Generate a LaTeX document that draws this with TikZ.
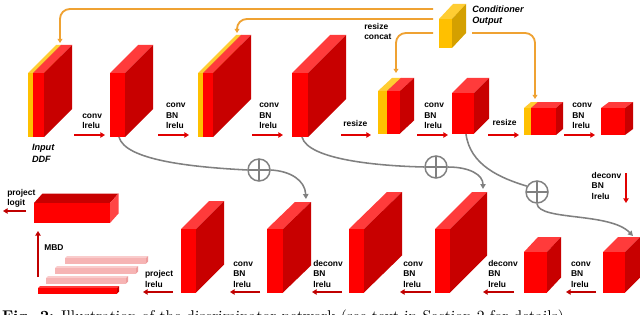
\documentclass[tikz,border=0pt]{standalone}
\usepackage{fontspec}
\usepackage{graphicx}
\newfontfamily\labfont{Liberation Sans}
\usetikzlibrary{arrows.meta}
\definecolor{redf}{HTML}{FF0000}
\definecolor{reds}{HTML}{C80000}
\definecolor{redt}{HTML}{FF3B3B}
\definecolor{yelf}{HTML}{FFC000}
\definecolor{yels}{HTML}{D4A000}
\definecolor{yelt}{HTML}{FFCD33}
\definecolor{pinkf}{HTML}{F6B4B4}
\definecolor{pinks}{HTML}{EE9E9E}
\definecolor{pinkt}{HTML}{F9CCCC}
\definecolor{logf}{HTML}{FF0000}
\definecolor{logs}{HTML}{FF4545}
\definecolor{logt}{HTML}{C80000}
\definecolor{condorange}{HTML}{EFA232}
\definecolor{skipgray}{HTML}{808080}
\definecolor{arrtop}{HTML}{E00000}
\definecolor{arrbot}{HTML}{C00000}
% #1 colour scheme, #2 name, #3 x0, #4 y0, #5 x1, #6 y1, #7 dx, #8 dy
\newcommand\cuboid[8][red]{%
  \coordinate (#2) at (#3,#4);
  \fill[#1t] (#3,#4) -- (#5,#4) -- ({#5+#7},{#4+#8}) -- ({#3+#7},{#4+#8}) -- cycle;
  \fill[#1s] (#5,#4) -- ({#5+#7},{#4+#8}) -- ({#5+#7},{#6+#8}) -- (#5,#6) -- cycle;
  \fill[#1f] (#3,#4) rectangle (#5,#6);
}
\newcommand\redarr[6][arrtop]{%
  \coordinate (#2-s) at (#3,#4);
  \coordinate (#2-e) at (#5,#6);
  \draw[redarrow, draw=#1] (#2-s) -- (#2-e);
}
\newcommand\fl{\rule{0pt}{8.6pt}}
\newcommand\flit{\rule{0pt}{9.3pt}}
\tikzset{
  redarrow/.style={line width=2.6pt, -{Triangle[length=6.5pt,width=7.5pt]}},
  skipline/.style={draw=skipgray, line width=2.2pt},
  skiparrow/.style={skipline, -{Triangle[length=7pt,width=7.5pt]}},
  condarrow/.style={draw=condorange, line width=2.6pt, rounded corners=14pt, -{Triangle[length=6pt,width=7pt]}},
  lbl/.style={font=\labfont\bfseries\fontsize{12}{14.8}\selectfont, align=left, anchor=north west, inner sep=0pt, outer sep=0pt},
  lblit/.style={lbl, font=\labfont\bfseries\itshape\fontsize{13}{16}\selectfont},
  circplus/.style={circle, draw=skipgray, line width=2.1pt, minimum size=1.1cm, inner sep=0pt, fill=white,
    path picture={\draw[skipgray, line width=2.1pt]
      (path picture bounding box.north) -- (path picture bounding box.south)
      (path picture bounding box.west) -- (path picture bounding box.east);}},
}
\begin{document}
\begin{tikzpicture}[x=0.05cm, y=-0.05cm]
\useasboundingbox (0,0) rectangle (640,315);
\clip (0,0) rectangle (640,315);
\fill[white] (0,0) rectangle (640,315);

% ---------- top row ----------
\cuboid[yel]{t1y}{28}{73}{33}{137}{28}{-28}
\cuboid{t1}{33}{73}{44}{137}{28}{-28}
\cuboid{t2}{110}{73}{125}{137}{28}{-28}
\cuboid[yel]{t3y}{198}{73}{203}{137}{38}{-38}
\cuboid{t3}{203}{73}{213}{137}{38}{-38}
\cuboid{t4}{292}{73}{308}{137}{38}{-38}
\cuboid[yel]{t5y}{378}{91}{387}{133.5}{14}{-13}
\cuboid{t5}{387}{91}{400}{133.5}{14}{-13}
\cuboid{t6}{452}{93}{474}{133.5}{15}{-15}
\cuboid[yel]{t7y}{524}{108}{531}{135}{7}{-6}
\cuboid{t7}{531}{108}{556}{135}{7}{-6}
\cuboid{t8}{601}{108}{625}{135}{8}{-6}
% conditioner
\cuboid[yel]{cond}{439}{19}{452}{48}{14}{-15}

% ---------- bottom row ----------
\cuboid{ba}{603}{252}{625}{292.5}{15}{-15}
\cuboid{bb}{524}{252}{547}{292.5}{14}{-15}
\cuboid{bc}{435}{229}{450}{292.5}{37}{-37}
\cuboid{bd}{349}{229}{364}{292.5}{38}{-37}
\cuboid{be}{267}{229}{283}{292.5}{28}{-27}
\cuboid{bf}{181}{229}{196}{292.5}{28}{-28}

% ---------- left part ----------
\cuboid[log]{logit}{34}{203}{110}{223}{8.5}{-9.5}
\cuboid[pink]{bar3}{65}{258}{146}{263.5}{2}{-2}
\cuboid[pink]{bar2}{55}{268}{136}{273.5}{2}{-2}
\cuboid[pink]{bar1}{46}{278}{126}{283.5}{2}{-2}
\cuboid{bar0}{38}{288}{117}{293.5}{2}{-2}

% ---------- red arrows ----------
\redarr{a1}{74}{135}{105}{135}
\redarr{a2}{158}{135}{189}{135}
\redarr{a3}{252}{135}{283}{135}
\redarr{a4}{341}{135}{371}{135}
\redarr{a5}{417}{135}{448}{135}
\redarr{a6}{488}{135}{519}{135}
\redarr{a7}{564}{135}{595}{135}
\redarr[arrbot]{b1}{596}{292}{566}{292}
\redarr[arrbot]{b2}{514}{292}{483}{292}
\redarr[arrbot]{b3}{431}{292}{400}{292}
\redarr[arrbot]{b4}{342}{292}{312}{292}
\redarr[arrbot]{b5}{260}{292}{230}{292}
\redarr[arrbot]{b6}{173}{292}{143}{292}
\redarr[arrbot]{pla}{26}{211}{3}{211}
\redarr[arrbot]{mba}{38}{277}{38}{231}
\redarr[arrtop]{va}{626}{173}{626}{203}

% ---------- conditioner connectors ----------
\coordinate (o1s) at (433,9);   \coordinate (o1e) at (60,43);
\coordinate (o2s) at (433,19);  \coordinate (o2e) at (237,33);
\coordinate (o3s) at (433,33);  \coordinate (o3e) at (396,73);
\coordinate (o4s) at (472,33);  \coordinate (o4e) at (535,99);
\draw[condarrow] (o1s) -| (o1e);
\draw[condarrow] (o2s) -| (o2e);
\draw[condarrow] (o3s) -| (o3e);
\draw[condarrow] (o4s) -| (o4e);

% ---------- skip connections ----------
\node[circplus] (c1) at (259,170) {};
\node[circplus] (c2) at (436,167) {};
\node[circplus] (c3) at (537,192) {};
\coordinate (s1) at (119,137); \coordinate (e1) at (306,199);
\coordinate (s2) at (302,137); \coordinate (e2) at (483,189);
\coordinate (s3) at (466,134); \coordinate (e3) at (633,236);
\draw[skipline] (s1) .. controls (125,160) and (190,167) .. (c1.west);
\draw[skiparrow] (c1.east) .. controls (290,171) and (305,180) .. (e1);
\draw[skipline] (s2) .. controls (308,160) and (380,166) .. (c2.west);
\draw[skiparrow] (c2.east) .. controls (470,167) and (483,175) .. (e2);
\draw[skipline] (s3) .. controls (470,165) and (500,178) .. (c3.150);
\draw[skiparrow] (c3.south) .. controls (539,221) and (610,212) .. (e3);

% ---------- labels ----------
\node[lbl] (l1) at (82.3,112.45) {\fl conv\\lrelu};
\node[lbl] (l2) at (166,101.95) {\fl conv\\BN\\lrelu};
\node[lbl] (l3) at (259.3,101.95) {\fl conv\\BN\\lrelu};
\node[lbl] (l4) at (343.3,120.25) {\fl resize};
\node[lbl] (l5) at (424.3,101.95) {\fl conv\\BN\\lrelu};
\node[lbl] (l6) at (492.7,119.5) {\fl resize};
\node[lbl] (l7) at (572.3,101.95) {\fl conv\\BN\\lrelu};
\node[lbl] (rc) at (364.3,23.3) {\fl resize\\concat};
\node[lblit] (co) at (472.3,6.05) {\flit Conditioner\\Output};
\node[lblit] (inp) at (32,144.45) {\flit Input\\DDF};
\node[lbl] (m1) at (571,260.45) {\fl conv\\BN\\lrelu};
\node[lbl] (m2) at (488.3,260.45) {\fl deconv\\BN\\lrelu};
\node[lbl] (m3) at (403.3,260.45) {\fl conv\\BN\\lrelu};
\node[lbl] (m4) at (313.3,260.45) {\fl deconv\\BN\\lrelu};
\node[lbl] (m5) at (233.3,260.45) {\fl conv\\BN\\lrelu};
\node[lbl] (m6) at (145,270.85) {\fl project\\lrelu};
\node[lbl] (vl) at (591.7,172.45) {\fl deconv\\BN\\lrelu};
\node[lbl] (mbd) at (44.3,244.95) {\fl MBD};
\node[lbl] (pl) at (7.3,189.15) {\fl project\\logit};

% ---------- caption (cut off at the bottom) ----------
\node[anchor=north west, inner sep=0pt] (cap) at (2,309.5)
  {\resizebox{28.3cm}{!}{\textbf{Fig. 2:} Illustration of the discriminator network (see text in Section 2 for details).}};
\end{tikzpicture}
\end{document}
